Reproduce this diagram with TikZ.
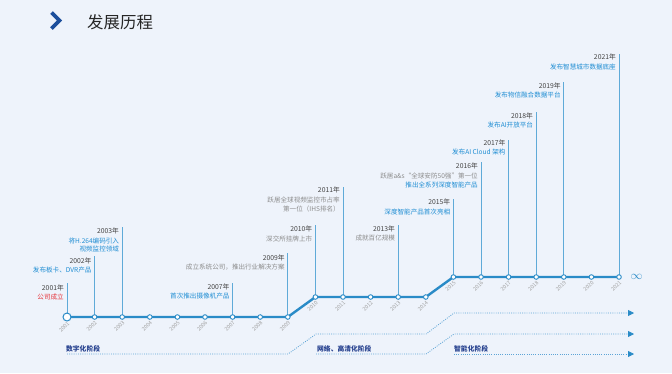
\documentclass[tikz,border=0pt]{standalone}
\usepackage{fontspec}
\setmainfont{Noto Sans CJK SC}
\usetikzlibrary{arrows.meta}
\definecolor{bg}{HTML}{EEF3FB}
\definecolor{tblue}{HTML}{1F8DD3}
\definecolor{lblue}{HTML}{2A8BC7}
\definecolor{vblue}{HTML}{5FAAD8}
\definecolor{ygray}{HTML}{444444}
\definecolor{dgray}{HTML}{8C8C8C}
\definecolor{tred}{HTML}{E5343A}
\definecolor{pblue}{HTML}{26418F}
\definecolor{navy}{HTML}{1D4F9C}
\definecolor{dotblue}{HTML}{5DA4D6}
\newcommand\tlyear[3]{%
  \draw[vline] (p#1) -- (p#1 |- 0,#3);
  \node[ylab] (e#1) at (p#1 |- 0,#2) {#1年};}
\newcommand\tlline[5]{%
  \node[dlab,text=#3] (d#1#5) at (p#1 |- 0,#2) {#4};}
\tikzset{
  pt/.style={circle,draw=lblue,fill=white,line width=0.9bp,inner sep=0pt,minimum size=4.6bp},
  bigpt/.style={circle,draw=lblue,fill=white,line width=1bp,inner sep=0pt,minimum size=8bp},
  mainline/.style={draw=lblue,line width=2.4bp},
  vline/.style={draw=vblue,line width=1bp},
  ylab/.style={anchor=east,xshift=-3bp,inner sep=0pt,text=ygray,font=\fontsize{6.8}{8}\selectfont},
  dlab/.style={anchor=east,xshift=-3bp,inner sep=0pt,font=\fontsize{6.6}{8}\selectfont},
  yrtick/.style={anchor=east,rotate=45,inner sep=0pt,text=dgray!80,font=\fontsize{5.4}{6}\selectfont},
  phase/.style={anchor=west,inner sep=0pt,text=pblue,font=\fontsize{6.8}{8}\selectfont\bfseries},
  dotline/.style={draw=dotblue,line width=0.8bp,dash pattern=on 0.9bp off 1.3bp},
  arrline/.style={dotline,-{Triangle[length=6bp,width=6bp,color=lblue,fill=lblue]}}
}
\begin{document}
\begin{tikzpicture}[x=1bp,y={(0bp,-1bp)}]
\path[fill=bg] (0,0) rectangle (672,373);
\useasboundingbox (0,0) rectangle (672,373);
% header
\draw[navy,line width=3.8bp,miter limit=10] (51.5,12.5) -- (59.5,20.5) -- (51.5,28.5);
\node[anchor=west,inner sep=0pt,text=black!85,font=\fontsize{16.5}{18}\selectfont] (title) at (87,22) {发展历程};
% timeline points
\foreach \yr/\x/\y in {2002/94.6/317,2003/122.2/317,2004/149.8/317,2005/177.4/317,2006/205/317,2007/232.6/317,2008/260.2/317,2009/287.8/317,2010/315.4/297,2011/343/297,2012/370.6/297,2013/398.2/297,2014/425.8/297,2015/453.4/277,2016/481/277,2017/508.6/277,2018/536.2/277,2019/563.8/277,2020/591.4/277,2021/619/277}
  {\coordinate (p\yr) at (\x,\y);}
\coordinate (p2001) at (67,317);
% vertical lines and labels
\tlyear{2001}{288}{283}
\tlline{2001}{297}{tred}{公司成立}{a}
\tlyear{2002}{261}{256}
\tlline{2002}{270.5}{tblue}{发布板卡、DVR产品}{a}
\tlyear{2003}{231}{227}
\tlline{2003}{240.5}{tblue}{将H.264编码引入}{a}
\tlline{2003}{249.5}{tblue}{视频监控领域}{b}
\tlyear{2007}{287}{283}
\tlline{2007}{296.5}{tblue}{首次推出摄像机产品}{a}
\tlyear{2009}{258}{253}
\tlline{2009}{267.5}{dgray}{成立系统公司，推出行业解决方案}{a}
\tlyear{2010}{229}{225}
\tlline{2010}{238.5}{dgray}{深交所挂牌上市}{a}
\tlyear{2011}{190}{187}
\tlline{2011}{199.5}{dgray}{跃居全球视频监控市占率}{a}
\tlline{2011}{208.5}{dgray}{第一位（IHS排名）}{b}
\tlyear{2013}{229}{225}
\tlline{2013}{238.5}{dgray}{成就百亿规模}{a}
\tlyear{2015}{202}{199}
\tlline{2015}{211.5}{tblue}{深度智能产品首次亮相}{a}
\tlyear{2016}{166}{162}
\tlline{2016}{176}{dgray}{跃居a\&s“全球安防50强”第一位}{a}
\tlline{2016}{185}{tblue}{推出全系列深度智能产品}{b}
\tlyear{2017}{143}{140}
\tlline{2017}{152}{tblue}{发布AI Cloud 架构}{a}
\tlyear{2018}{116}{112}
\tlline{2018}{125}{tblue}{发布AI开放平台}{a}
\tlyear{2019}{86}{82}
\tlline{2019}{95}{tblue}{发布物信融合数据平台}{a}
\tlyear{2021}{57}{54}
\tlline{2021}{66.5}{tblue}{发布智慧城市数据底座}{a}
% main line
\draw[mainline] (p2001) -- (p2002) -- (p2003) -- (p2004) -- (p2005) -- (p2006) -- (p2007) -- (p2008) -- (p2009) -- (p2010) -- (p2011) -- (p2012) -- (p2013) -- (p2014) -- (p2015) -- (p2016) -- (p2017) -- (p2018) -- (p2019) -- (p2020) -- (p2021);
\node[bigpt] (c2001) at (p2001) {};
\node[yrtick] (t2001) at ([shift={(1.5,6)}]p2001) {2001};
\foreach \yr in {2002,2003,2004,2005,2006,2007,2008,2009,2010,2011,2012,2013,2014,2015,2016,2017,2018,2019,2020,2021}{
  \node[pt] (c\yr) at (p\yr) {};
  \node[yrtick] (t\yr) at ([shift={(1.5,5)}]p\yr) {\yr};
}
\node[text=lblue,inner sep=0pt,font=\fontsize{13}{13}\selectfont] (inf) at (636.5,277) {$\infty$};
% phases
\coordinate (a0) at (67,354); \coordinate (a1) at (288,354); \coordinate (a2) at (316,334);
\coordinate (a3) at (426,334); \coordinate (a4) at (454,313); \coordinate (a5) at (634,313);
\coordinate (b0) at (316,354); \coordinate (b1) at (426,354); \coordinate (b2) at (454,334); \coordinate (b5) at (634,334);
\coordinate (c0) at (454,354); \coordinate (c5) at (634,354);
\draw[arrline] (a0) -- (a1) -- (a2) -- (a3) -- (a4) -- (a5);
\draw[arrline] (b0) -- (b1) -- (b2) -- (b5);
\draw[arrline] (c0) -- (c5);
\node[phase] (ph1) at (66,348.5) {数字化阶段};
\node[phase] (ph2) at (317,348.5) {网络、高清化阶段};
\node[phase] (ph3) at (454,348.5) {智能化阶段};
\end{tikzpicture}
\end{document}
